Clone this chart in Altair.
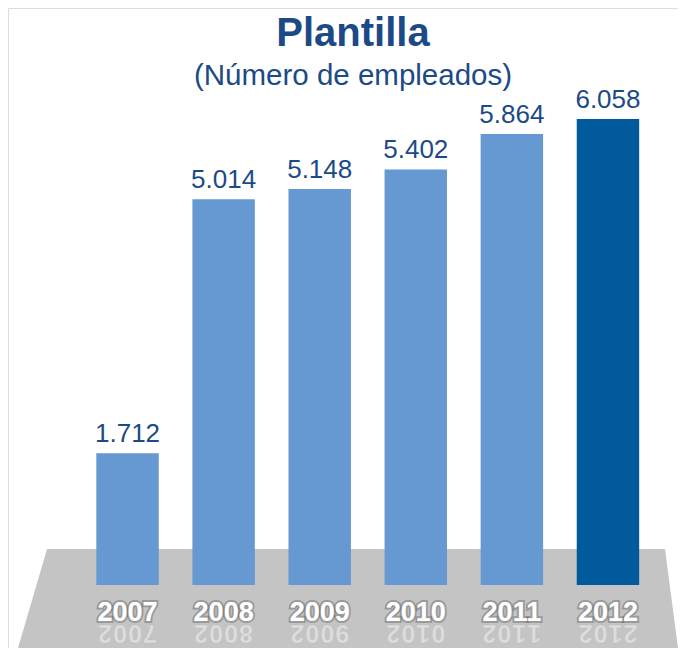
import altair as alt
import pandas as pd

years = ["2007", "2008", "2009", "2010", "2011", "2012"]
employees = [1712, 5014, 5148, 5402, 5864, 6058]
bar_colors = ["#6699d1", "#6699d1", "#6699d1", "#6699d1", "#6699d1", "#005a9c"]

title_text = "Plantilla"
subtitle_text = "(Número de empleados)"

# floor (decorative trapezoid), pixel space
floor_y = [541, 640]
floor_left = [39, 10]
floor_right = [657, 670]

df = pd.DataFrame({"year": years, "v": employees, "color": bar_colors})
floor = pd.DataFrame({"fy": floor_y, "fx": floor_left, "fx2": floor_right})

W, H = 670, 640
FONT = "Liberation Sans"

xs = alt.X("year:N", axis=None,
           scale=alt.Scale(range=[71.5, 648], paddingInner=0.35, paddingOuter=0.175))
ys = alt.Y("v:Q", axis=None, scale=alt.Scale(domain=[0, 6058], range=[577, 111]))

floor_layer = alt.Chart(floor).mark_area(orient="horizontal", color="#c4c4c4").encode(
    y=alt.Y("fy:Q", scale=None, axis=None),
    x=alt.X("fx:Q", scale=None, axis=None),
    x2="fx2:Q",
)

base = alt.Chart(df)

bars = base.mark_bar().encode(
    x=xs,
    y=ys,
    y2=alt.datum(0),
    color=alt.Color("color:N", scale=None),
)

values = base.mark_text(font=FONT, fontSize=26, color="#1c4a86", baseline="alphabetic", dy=-11).transform_calculate(
    lbl="replace(format(datum.v, ','), ',', '.')"
).encode(x=xs, y=ys, text="lbl:N")

year_shadow = base.mark_text(font=FONT, fontSize=27, fontWeight="bold", color="#ffffff",
                             stroke="#555555", strokeWidth=4, strokeOpacity=0.4,
                             baseline="alphabetic").encode(
    x=xs, y=alt.value(613), text="year:N")
year_text = base.mark_text(font=FONT, fontSize=27, fontWeight="bold", color="#ffffff",
                           baseline="alphabetic").encode(
    x=xs, y=alt.value(613), text="year:N")

reflections = []
for i in range(4):
    off = (i - 1.5) * 15
    reflections.append(
        base.mark_text(font=FONT, fontSize=25, fontWeight="bold", color="#ffffff",
                       opacity=0.45, stroke="#9a9a9a", strokeWidth=1.5, strokeOpacity=0.2,
                       baseline="alphabetic", angle=180, dx=-off).transform_calculate(
            ch=f"substring(datum.year, {i}, {i + 1})"
        ).encode(x=xs, y=alt.value(617), text="ch:N")
    )

title = alt.Chart(pd.DataFrame({"t": [title_text]})).mark_text(
    font=FONT, fontSize=40, fontWeight="bold", color="#1c4a86", baseline="alphabetic"
).encode(x=alt.value(345), y=alt.value(38), text="t:N")

subtitle = alt.Chart(pd.DataFrame({"t": [subtitle_text]})).mark_text(
    font=FONT, fontSize=29.5, color="#1c4a86", baseline="alphabetic"
).encode(x=alt.value(345), y=alt.value(77), text="t:N")

chart = alt.layer(
    floor_layer, bars, values, year_shadow, year_text, *reflections, title, subtitle
).resolve_scale(x="independent", y="independent").properties(
    width=W, height=H, padding=0, autosize=alt.AutoSizeParams(type="none")
).configure_view(stroke=None).configure(background="#ffffff")

chart.save("out.html", embed_options={"renderer": "svg", "actions": False})
